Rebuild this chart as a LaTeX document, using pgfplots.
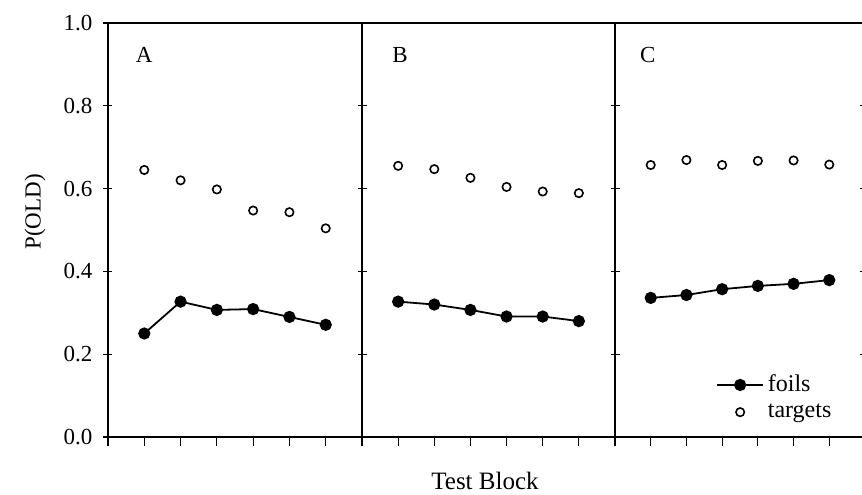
\documentclass[border=0pt]{standalone}
\usepackage{pgfplots}
\pgfplotsset{compat=1.18}
\usepackage{fontspec}
\setmainfont{Liberation Serif}

\begin{document}
\begin{tikzpicture}
\pgfplotsset{
  panel/.style={
    scale only axis, height=207pt,
    xmin=0, xmax=7, ymin=0, ymax=1,
    xtick={0,...,7}, xticklabels={}, xtick pos=bottom,
    ytick={0,0.2,0.4,0.6,0.8,1.0},
    tick align=center, major tick length=4.5pt,
    x tick style={yshift=-2.25pt},
    tick style={line width=0.6pt, black},
    axis line style={line width=0.6pt},
    yticklabel style={font=\fontsize{11.5}{13}\selectfont, xshift=-2pt},
    /pgf/number format/.cd, fixed, fixed zerofill, precision=1, assume math mode=true,
  },
  foils/.style={black, line width=0.9pt, mark=*, mark size=2.6pt},
  targets/.style={black, only marks, mark=o, mark size=2.1pt, line width=0.8pt},
  legend image code/.code={\draw[mark repeat=2,mark phase=2,#1] plot coordinates {(0cm,0cm) (0.4cm,0cm) (0.8cm,0cm)};},
}

% panel A
\begin{axis}[panel, width=127pt, at={(0pt,0pt)}, ytick pos=left]
\addplot[foils] coordinates {(1,0.250) (2,0.327) (3,0.307) (4,0.309) (5,0.290) (6,0.271)};
\addplot[targets] coordinates {(1,0.645) (2,0.620) (3,0.598) (4,0.547) (5,0.543) (6,0.504)};
\node[font=\fontsize{11.5}{13}\selectfont] at (axis cs:1,0.923) {A};
\end{axis}

% panel B
\begin{axis}[panel, width=126.5pt, at={(127pt,0pt)}, ytick pos=left, yticklabels={}]
\addplot[foils] coordinates {(1,0.327) (2,0.320) (3,0.307) (4,0.291) (5,0.291) (6,0.280)};
\addplot[targets] coordinates {(1,0.655) (2,0.647) (3,0.626) (4,0.604) (5,0.593) (6,0.589)};
\node[font=\fontsize{11.5}{13}\selectfont] at (axis cs:1.05,0.923) {B};
\end{axis}

% panel C
\begin{axis}[panel, width=125pt, at={(253.5pt,0pt)}, ytick pos=both, yticklabels={},
  legend style={at={(axis cs:6.35,0.17)}, anchor=north east, draw=none, fill=none,
    font=\fontsize{12}{13}\selectfont, row sep=0.5pt, cells={anchor=west}}]
\addplot[foils] coordinates {(1,0.336) (2,0.343) (3,0.357) (4,0.365) (5,0.370) (6,0.379)};
\addplot[targets] coordinates {(1,0.657) (2,0.669) (3,0.657) (4,0.667) (5,0.668) (6,0.658)};
\legend{foils, targets}
\node[font=\fontsize{11.5}{13}\selectfont] at (axis cs:0.92,0.923) {C};
\end{axis}

\node[rotate=90, font=\fontsize{11.5}{13}\selectfont] at (-36.5pt,112.5pt) {P(OLD)};
\node[anchor=base, font=\fontsize{12.5}{14}\selectfont] at (188.5pt,-26pt) {Test Block};

\pgfresetboundingbox
\path[use as bounding box] (-54pt,-28.5pt) rectangle (377pt,218.5pt);
\end{tikzpicture}
\end{document}
